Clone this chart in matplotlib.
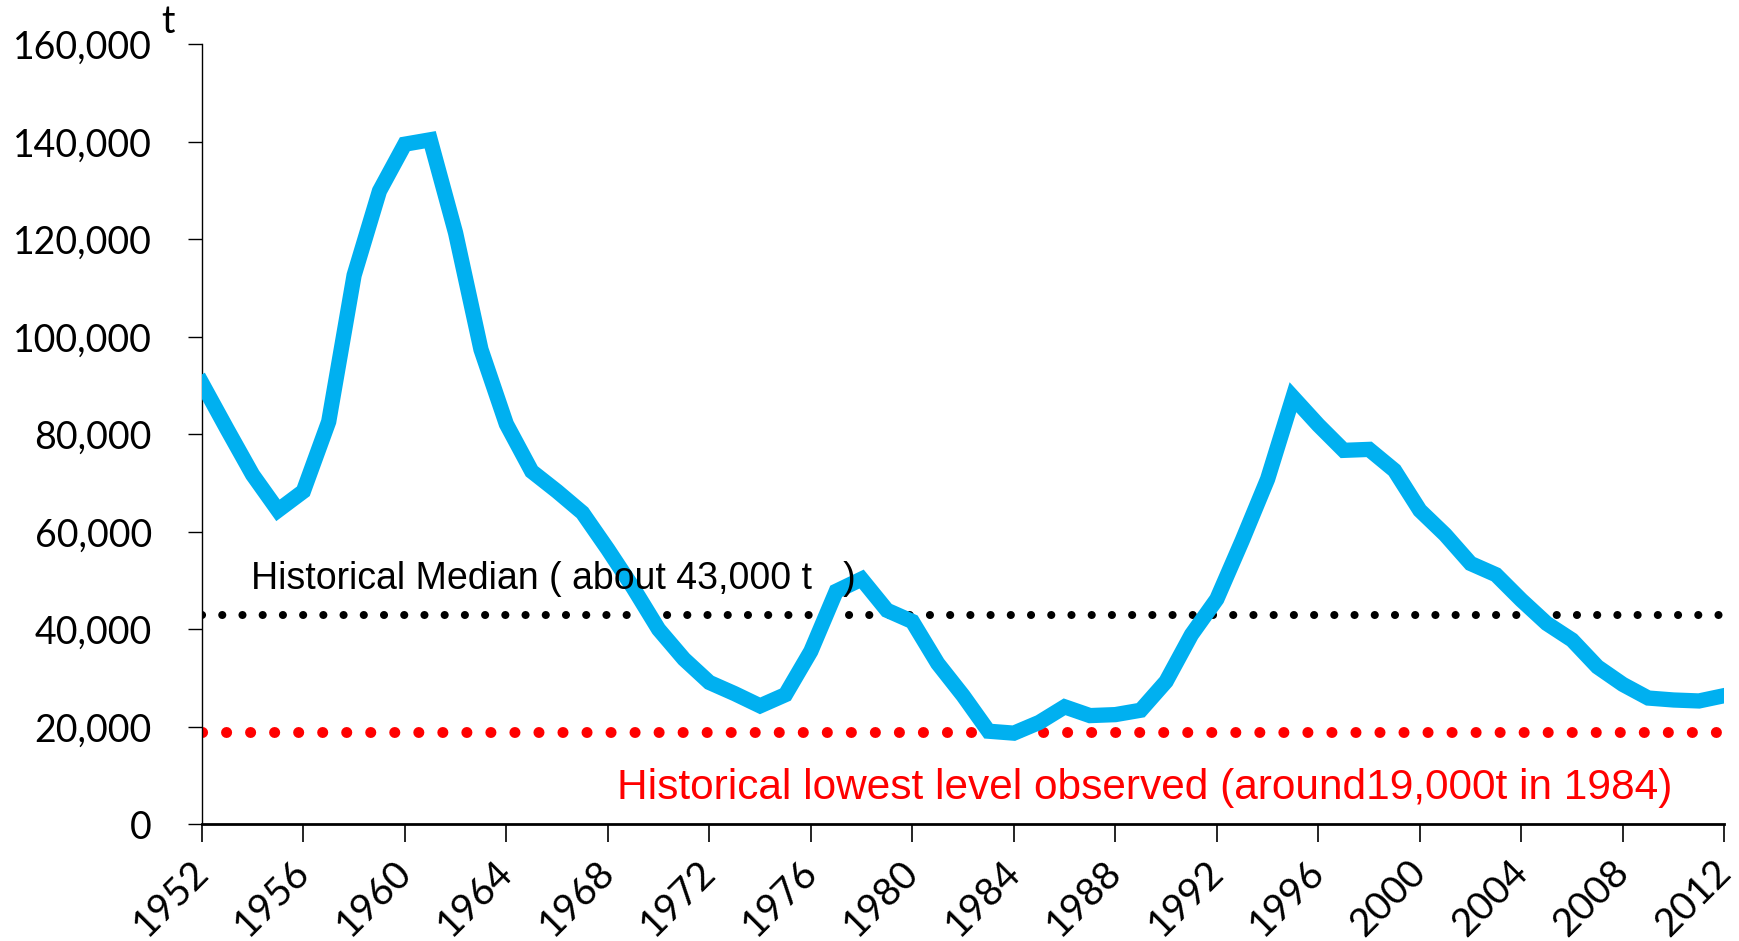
import matplotlib
matplotlib.use("Agg")
import matplotlib.pyplot as plt
import matplotlib.transforms as mtransforms
import numpy as np

years = list(range(1952, 2013))
catch = [90500, 81000, 71700, 64400, 68300, 82600, 112600, 129900, 139500, 140400,
         121300, 97400, 82100, 72400, 68300, 63900, 56400, 48500, 40000, 33900,
         29100, 26800, 24300, 26600, 35500, 47800, 50300, 43900, 41600, 33000,
         26400, 19100, 18700, 20900, 24100, 22300, 22500, 23400, 29300, 38900,
         46200, 58200, 70800, 87600, 81900, 76700, 76900, 72600, 64400, 59400,
         53500, 51200, 46000, 41200, 37800, 32300, 28700, 25900, 25500, 25300,
         26400]
median_level = 43000
lowest_level = 19000
year_ticks = list(range(1952, 2013, 4))
y_ticks = list(range(0, 160001, 20000))

fig = plt.figure(figsize=(17.4, 9.41), dpi=100)
ax = fig.add_axes([0.116, 0.124, 0.875, 0.829])

# 中位线和最低线（圆点虚线）
ax.axhline(median_level, color="black", lw=5.8, linestyle=(0, (0.01, 2.5)),
           dash_capstyle="round", zorder=2)
ax.axhline(lowest_level, color="red", lw=7.9, linestyle=(0, (0.01, 2.18)),
           dash_capstyle="round", zorder=2)
ax.plot(years, catch, color="#00B0F0", lw=11, solid_joinstyle="miter", zorder=3)

ax.set_xlim(1952, 2012)
ax.set_ylim(0, 160000)
ax.set_xticks(year_ticks)
ax.set_xticklabels([str(y) for y in year_ticks], rotation=45, ha="right",
                   rotation_mode="anchor", fontsize=28, family="Lato")
ax.set_yticks(y_ticks)
ax.set_yticklabels([f"{v:,}" for v in y_ticks], fontsize=27, family="Lato")

for s in ["top", "right"]:
    ax.spines[s].set_visible(False)
ax.spines["left"].set_linewidth(1)
ax.spines["bottom"].set_linewidth(2)
ax.tick_params(axis="y", length=10, width=1, pad=26)
ax.tick_params(axis="x", length=13, width=1.2, pad=8)

shift = mtransforms.ScaledTranslation(-12 / 100, 0, fig.dpi_scale_trans)
for lab in ax.get_xticklabels():
    lab.set_transform(lab.get_transform() + shift)

ax.text(-0.022, 1.028, "t", transform=ax.transAxes, fontsize=27, family="Lato",
        ha="center", va="center")

ax.text(1953.93, 50300, "Historical Median ( about 43,000 t   )", fontsize=27,
        family="Liberation Sans", color="black", va="center")
ax.text(1968.35, 7500, "Historical lowest level observed (around19,000t in 1984)",
        fontsize=30.5, family="Liberation Sans", color="red", va="center")

fig.savefig("out.png", dpi=100)
